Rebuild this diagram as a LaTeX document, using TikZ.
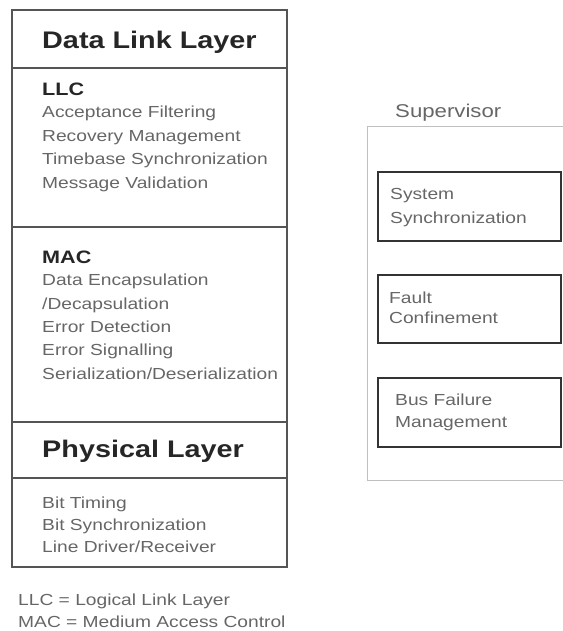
\documentclass[tikz,border=0pt]{standalone}
\usepackage{fontspec}
\setmainfont{Liberation Sans}[FakeStretch=1.2]
\definecolor{framegray}{HTML}{555555}
\definecolor{textgray}{HTML}{666666}
\begin{document}
\begin{tikzpicture}[x = 1pt, y = -1pt,
  layer/.style = {draw = framegray, line width = 1.6pt, minimum width = 275pt, inner sep = 0pt, outer sep = 0pt, anchor = north west},
  title/.style = {anchor = base west, inner sep = 0pt, text = black!85, font = \fontsize{24}{28}\selectfont\bfseries},
  items/.style = {anchor = base west, inner sep = 0pt, align = left, text = textgray, font = \fontsize{16}{23.3}\selectfont},
  task/.style = {draw = black!80, line width = 1.6pt, minimum width = 183pt, inner sep = 0pt, outer sep = 0pt, anchor = north west}]
\useasboundingbox (0, 0) rectangle (562, 631);

\node[layer, minimum height = 58pt] (dll) at (12, 10) {};
\node[layer, minimum height = 159pt] (llc) at (12, 68) {};
\node[layer, minimum height = 195pt] (mac) at (12, 227) {};
\node[layer, minimum height = 56pt] (phy) at (12, 422) {};
\node[layer, minimum height = 89pt] (phyfun) at (12, 478) {};

% multi-line nodes sit on the baseline of their last line
\node[title] (dlltitle) at (42, 49) {Data Link Layer};
\node[items, font = \fontsize{16}{23.5}\selectfont] (llctext) at (42, 188) {\textcolor{black!85}{\fontsize{18}{20}\selectfont\bfseries LLC}\\[-1.5pt] Acceptance Filtering\\ Recovery Management\\ Timebase Synchronization\\ Message Validation};
\node[items] (mactext) at (42, 379) {\textcolor{black!85}{\fontsize{18}{20}\selectfont\bfseries MAC}\\[-0.5pt] Data Encapsulation\\ /Decapsulation\\ Error Detection\\ Error Signalling\\ Serialization/Deserialization};
\node[title] (phytitle) at (42, 457) {Physical Layer};
\node[items, font = \fontsize{16}{22}\selectfont] (phytext) at (42, 552) {Bit Timing\\ Bit Synchronization\\ Line Driver/Receiver};

\node[items, font = \fontsize{16}{22}\selectfont] (legend) at (18, 627) {LLC = Logical Link Layer\\ MAC = Medium Access Control};

\node[anchor = base west, inner sep = 0pt, text = textgray, font = \fontsize{18.5}{20}\selectfont] (suplabel) at (395, 118) {Supervisor};
\coordinate (supne) at (563, 127);
\coordinate (supse) at (563, 480);
\draw[black!25, line width = 1pt] (supne) -- (367, 127) -- (367, 480) -- (supse);

\node[task, minimum height = 69pt] (sync) at (378, 172) {};
\node[task, minimum height = 68pt] (fault) at (378, 275) {};
\node[task, minimum height = 69pt] (busfail) at (378, 378) {};
\node[items] (synctext) at (390, 223) {System\\ Synchronization};
\node[items, font = \fontsize{16}{20}\selectfont] (faulttext) at (389, 323) {Fault\\ Confinement};
\node[items, font = \fontsize{16}{22}\selectfont] (busfailtext) at (395, 427) {Bus Failure\\ Management};
\end{tikzpicture}
\end{document}
